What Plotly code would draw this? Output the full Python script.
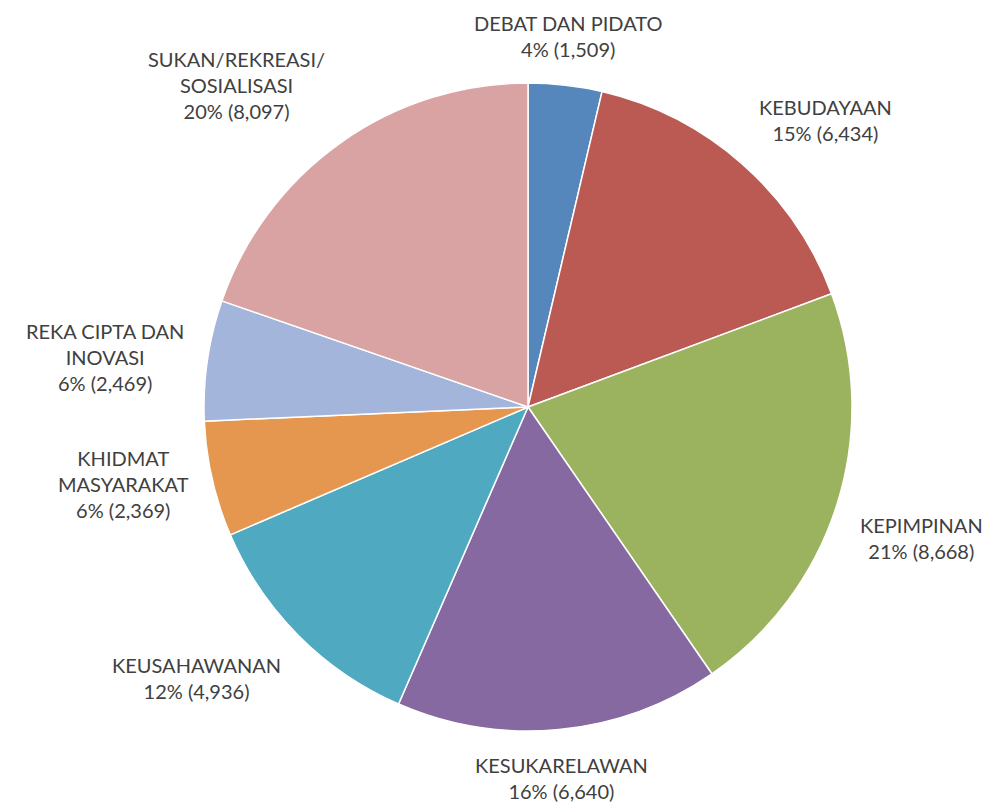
import math
import plotly.graph_objects as go

categories = ["DEBAT DAN PIDATO", "KEBUDAYAAN", "KEPIMPINAN", "KESUKARELAWAN",
              "KEUSAHAWANAN", "KHIDMAT<br>MASYARAKAT", "REKA CIPTA DAN<br>INOVASI",
              "SUKAN/REKREASI/<br>SOSIALISASI"]
values = [1509, 6434, 8668, 6640, 4936, 2369, 2469, 8097]
pct_labels = ["4%", "15%", "21%", "16%", "12%", "6%", "6%", "20%"]
colors = ["#5587BC", "#BA5A52", "#9BB35F", "#8569A0", "#4FA9C1", "#E5964F", "#A3B5DB", "#D9A2A3"]

W, H = 993, 803
CX, CY, R = 520, 399, 324  # pie centre / radius in figure pixels
GAP = 22
FONT = dict(family="Lato, 'Open Sans', sans-serif", size=20, color="#404040")

dom_x = [(CX - R) / W, (CX + R) / W]
dom_y = [1 - (CY + R) / H, 1 - (CY - R) / H]

fig = go.Figure(go.Pie(
    labels=categories,
    values=values,
    textinfo="none",
    sort=False,
    direction="clockwise",
    rotation=0,
    marker=dict(colors=colors, line=dict(color="white", width=1.5)),
    domain=dict(x=dom_x, y=dom_y),
    showlegend=False,
    hoverinfo="label+value",
))

# label placement derived from each slice's mid-angle
total = sum(values)
cum = 0
annotations = []
for c, p, v in zip(categories, pct_labels, values):
    mid = (cum + v / 2) / total * 2 * math.pi
    cum += v
    s, co = math.sin(mid), math.cos(mid)
    px = CX + (R + GAP) * s
    py = CY - (R + GAP) * co
    xa = "left" if s > 0.3 else ("right" if s < -0.3 else "center")
    ya = "bottom" if co > 0.3 else ("top" if co < -0.3 else "middle")
    annotations.append(dict(
        x=px / W, y=1 - py / H, xref="paper", yref="paper",
        text=f"{c}<br>{p} ({v:,})", showarrow=False, align="center",
        xanchor=xa, yanchor=ya, font=FONT,
    ))

fig.update_layout(
    width=W, height=H,
    margin=dict(l=0, r=0, t=0, b=0),
    paper_bgcolor="white",
    plot_bgcolor="white",
    showlegend=False,
    annotations=annotations,
)

fig.write_html("out.html")
